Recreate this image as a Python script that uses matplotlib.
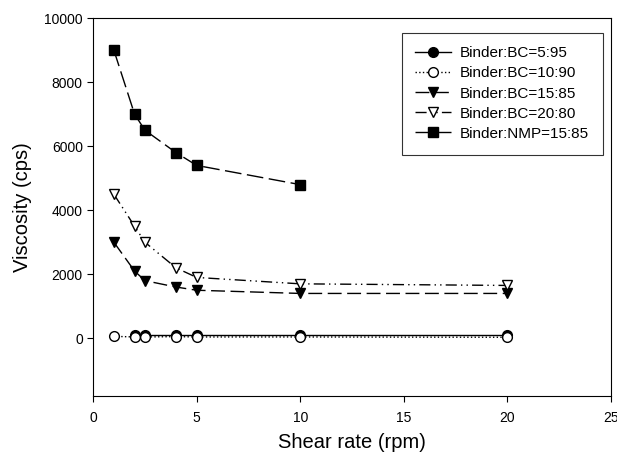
import matplotlib
matplotlib.use("Agg")
import matplotlib.pyplot as plt

plt.rcParams["font.family"] = ["Liberation Sans", "DejaVu Sans"]

x_bc595 = [2, 2.5, 4, 5, 10, 20]
y_bc595 = [100, 100, 100, 100, 100, 100]

x_bc1090 = [1, 2, 2.5, 4, 5, 10, 20]
y_bc1090 = [60, 40, 40, 50, 40, 40, 30]

x_bc1585 = [1, 2, 2.5, 4, 5, 10, 20]
y_bc1585 = [3000, 2100, 1800, 1600, 1500, 1400, 1400]

x_bc2080 = [1, 2, 2.5, 4, 5, 10, 20]
y_bc2080 = [4500, 3500, 3000, 2200, 1900, 1700, 1650]

x_nmp = [1, 2, 2.5, 4, 5, 10]
y_nmp = [9000, 7000, 6500, 5800, 5400, 4800]

fig = plt.figure(figsize=(6.17, 4.55), dpi=100)
ax = fig.add_axes([0.151, 0.130, 0.839, 0.830])

ms = 7
ax.plot(x_bc595, y_bc595, color="black", linestyle="-", linewidth=1,
        marker="o", markersize=ms, markerfacecolor="black", label="Binder:BC=5:95")
ax.plot(x_bc1090, y_bc1090, color="black", linestyle=":", linewidth=1,
        marker="o", markersize=ms, markerfacecolor="white", label="Binder:BC=10:90")
ax.plot(x_bc1585, y_bc1585, color="black", linestyle=(0, (10, 4)), linewidth=1,
        marker="v", markersize=ms, markerfacecolor="black", label="Binder:BC=15:85")
ax.plot(x_bc2080, y_bc2080, color="black", linestyle=(0, (8, 3, 1, 3, 1, 3)), linewidth=1,
        marker="v", markersize=ms, markerfacecolor="white", label="Binder:BC=20:80")
ax.plot(x_nmp, y_nmp, color="black", linestyle=(0, (12, 4)), linewidth=1,
        marker="s", markersize=ms, markerfacecolor="black", label="Binder:NMP=15:85")

ax.set_xlim(0, 25)
ax.set_ylim(-1800, 10000)
ax.set_xticks([0, 5, 10, 15, 20, 25])
ax.set_yticks([0, 2000, 4000, 6000, 8000, 10000])
ax.tick_params(direction="out", labelsize=10, length=4, width=0.8)
ax.tick_params(axis="x", pad=7)
ax.set_xlabel("Shear rate (rpm)", fontsize=14.5, labelpad=6)
ax.set_ylabel("Viscosity (cps)", fontsize=14.5, labelpad=9)
for s in ax.spines.values():
    s.set_linewidth(0.8)

leg = ax.legend(loc="upper right", bbox_to_anchor=(0.99, 0.97), fontsize=11,
                frameon=True, fancybox=False, edgecolor="black",
                handlelength=2.3, handletextpad=0.6, labelspacing=0.4,
                borderpad=0.9, borderaxespad=0.2)
leg.get_frame().set_linewidth(0.8)

fig.savefig("out.png", dpi=100)
